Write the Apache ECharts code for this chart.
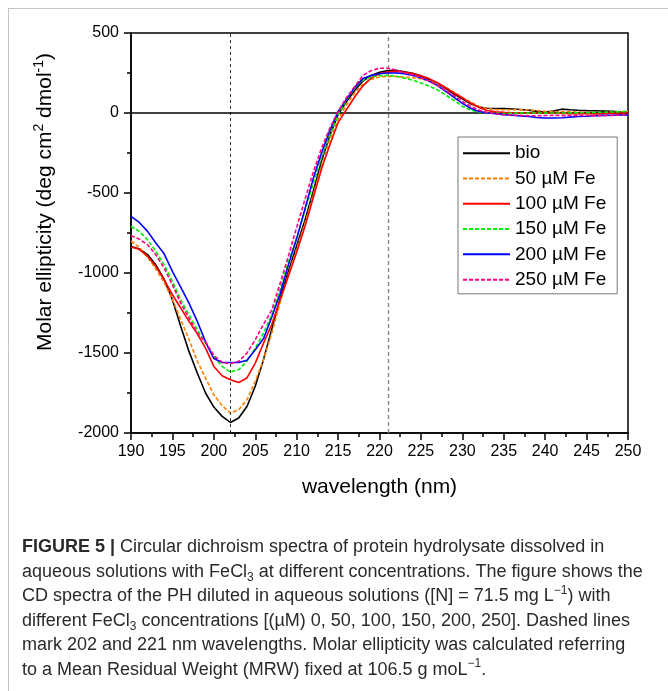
<!DOCTYPE html>
<html><head><meta charset="utf-8">
<script src="https://cdn.jsdelivr.net/npm/echarts@6/dist/echarts.min.js"></script>
<style>html,body{margin:0;padding:0;background:#fff}#c{width:668px;height:691px}</style>
</head><body><div id="c"></div>
<script>
const wavelengths = [190,191,192,193,194,195,196,197,198,199,200,201,202,203,204,205,206,207,208,209,210,211,212,213,214,215,216,217,218,219,220,221,222,223,224,225,226,227,228,229,230,231,232,233,234,235,236,237,238,239,240,241,242,243,244,245,246,247,248,249,250];
const bio = [-834,-850,-885,-950,-1040,-1167,-1333,-1490,-1625,-1750,-1838,-1896,-1934,-1906,-1834,-1708,-1540,-1350,-1160,-990,-830,-670,-490,-300,-140,-10,70,140,200,235,255,265,267,258,248,232,210,185,152,118,88,58,38,30,28,28,25,22,18,10,6,12,24,20,17,15,14,12,10,7,4];
const fe50 = [-800,-840,-900,-975,-1060,-1165,-1290,-1415,-1550,-1657,-1761,-1829,-1875,-1854,-1792,-1677,-1542,-1375,-1185,-1010,-850,-690,-510,-330,-170,-40,50,125,180,210,225,229,228,224,220,214,203,185,160,130,98,68,42,28,22,20,20,20,19,15,10,8,8,8,6,4,3,3,4,8,10];
const fe100 = [-838,-852,-896,-959,-1042,-1136,-1219,-1302,-1380,-1470,-1584,-1642,-1667,-1684,-1656,-1563,-1438,-1320,-1167,-1020,-870,-710,-530,-350,-200,-60,20,100,170,219,245,257,260,255,246,232,215,190,158,125,95,62,35,16,7,4,2,0,0,0,0,-2,-2,-4,-4,-4,-6,-4,-2,0,0];
const fe150 = [-709,-740,-792,-865,-948,-1052,-1167,-1261,-1354,-1438,-1521,-1584,-1619,-1604,-1552,-1469,-1375,-1260,-1100,-930,-780,-610,-440,-280,-140,-10,80,160,205,225,233,235,230,218,205,188,168,145,112,78,42,18,5,0,-2,-3,-2,0,0,0,0,0,0,0,1,2,3,5,6,8,10];
const fe200 = [-646,-684,-740,-813,-880,-990,-1088,-1188,-1302,-1430,-1535,-1559,-1559,-1559,-1545,-1480,-1410,-1275,-1130,-950,-785,-600,-410,-250,-110,10,85,160,215,235,245,250,250,245,235,220,198,172,135,98,60,30,10,0,-5,-10,-14,-18,-22,-28,-31,-31,-30,-26,-22,-20,-17,-15,-14,-12,-12];
const fe250 = [-767,-788,-823,-886,-969,-1073,-1188,-1282,-1375,-1430,-1515,-1559,-1567,-1552,-1500,-1417,-1320,-1230,-1065,-895,-715,-540,-370,-220,-95,10,95,165,235,265,280,280,268,252,237,220,200,172,140,108,72,42,18,4,-5,-10,-13,-15,-17,-17,-16,-15,-15,-15,-15,-16,-17,-17,-15,-12,-10];
const seriesNames = ['bio','50 µM Fe','100 µM Fe','150 µM Fe','200 µM Fe','250 µM Fe'];
const seriesColors = ['#000000','#ff8000','#ff0000','#00ee00','#0000ff','#ff0080'];
const seriesDashed = [false,true,false,true,false,true];
const markWavelengths = [202,221];
const yTicks = {min:-2000,max:500,interval:500};
const xTicks = {min:190,max:250,interval:5};

const allData = [bio,fe50,fe100,fe150,fe200,fe250];
const FONT = '"Liberation Sans", Arial, sans-serif';

const chart = echarts.init(document.getElementById('c'), null, {renderer:'canvas'});

const series = allData.map((vals,i)=>({
  name: seriesNames[i], type:'line', symbol:'none', smooth:false,
  data: wavelengths.map((w,j)=>[w, vals[j]]),
  lineStyle:{color:seriesColors[i], width:1.6, type: seriesDashed[i] ? [4,2] : 'solid'},
  itemStyle:{color:seriesColors[i]},
  z: 3 + i,
  emphasis:{disabled:true}
}));
series[0].markLine = {
  silent:true, symbol:'none', label:{show:false}, animation:false,
  data:[
    {xAxis:markWavelengths[0], lineStyle:{color:'#333', type:[3,3], width:1}},
    {xAxis:markWavelengths[1], lineStyle:{color:'#888', type:[4,3], width:1.4}},
    {yAxis:0, lineStyle:{color:'#000', type:'solid', width:1.5}}
  ]
};

const CF = 18;
const rich = {
  b:{fontWeight:'bold', fontSize:CF, fontFamily:FONT, color:'#2a2a2a', lineHeight:24, verticalAlign:'middle'},
  n:{fontSize:CF, fontFamily:FONT, color:'#2a2a2a', lineHeight:24, verticalAlign:'middle'},
  sub:{fontSize:12, fontFamily:FONT, color:'#2a2a2a', lineHeight:24, verticalAlign:'bottom'},
  sup:{fontSize:12, fontFamily:FONT, color:'#2a2a2a', lineHeight:24, verticalAlign:'top'}
};
const captionLines = [
  '{b|FIGURE 5 | }{n|Circular dichroism spectra of protein hydrolysate dissolved in}',
  '{n|aqueous solutions with FeCl}{sub|3}{n| at different concentrations. The figure shows the}',
  '{n|CD spectra of the PH diluted in aqueous solutions ([N] = 71.5 mg L}{sup|−1}{n|) with}',
  '{n|different FeCl}{sub|3}{n| concentrations [(µM) 0, 50, 100, 150, 200, 250]. Dashed lines}',
  '{n|mark 202 and 221 nm wavelengths. Molar ellipticity was calculated referring}',
  '{n|to a Mean Residual Weight (MRW) fixed at 106.5 g moL}{sup|−1}{n|.}'
];
const graphics = [
  {type:'line', shape:{x1:8,y1:8.5,x2:668,y2:8.5}, style:{stroke:'#c4c4c4', lineWidth:1}, silent:true},
  {type:'line', shape:{x1:8.5,y1:8,x2:8.5,y2:691}, style:{stroke:'#c4c4c4', lineWidth:1}, silent:true},
  {type:'text', x:45, y:202, rotation:Math.PI/2, silent:true,
    style:{text:'{a|Molar ellipticity (deg cm}{s|2}{a| dmol}{s|-1}{a|)}', align:'center', verticalAlign:'middle',
      rich:{a:{fontSize:21, fontFamily:FONT, fill:'#000', lineHeight:26, verticalAlign:'middle'},
            s:{fontSize:14, fontFamily:FONT, fill:'#000', lineHeight:26, verticalAlign:'top'}}}}
];
captionLines.forEach((t,i)=>{
  graphics.push({type:'text', x:22, y:547 + i*24.6, silent:true,
    style:{text:t, rich:rich, align:'left', verticalAlign:'middle', fill:'#2a2a2a', font:CF+'px '+FONT}});
});

chart.setOption({
  animation:false,
  backgroundColor:'#fff',
  textStyle:{fontFamily:FONT},
  grid:{left:131, right:40, top:33, bottom:258, show:true, borderColor:'#000', borderWidth:1.5, backgroundColor:'transparent'},
  xAxis:{type:'value', min:xTicks.min, max:xTicks.max, interval:xTicks.interval,
    name:'wavelength (nm)', nameLocation:'middle', nameGap:44,
    nameTextStyle:{fontSize:21, color:'#000', fontFamily:FONT},
    axisLine:{onZero:false, lineStyle:{color:'#000', width:1.5}},
    axisTick:{show:true, length:7, lineStyle:{color:'#000', width:1.5}},
    minorTick:{show:true, splitNumber:2, length:4, lineStyle:{color:'#000', width:1.5}},
    axisLabel:{fontSize:16, color:'#000', margin:11, fontFamily:FONT},
    splitLine:{show:false}},
  yAxis:{type:'value', min:yTicks.min, max:yTicks.max, interval:yTicks.interval,
    axisLine:{show:true, onZero:false, lineStyle:{color:'#000', width:1.5}},
    axisTick:{show:true, length:7, lineStyle:{color:'#000', width:1.5}},
    minorTick:{show:true, splitNumber:2, length:4, lineStyle:{color:'#000', width:1.5}},
    axisLabel:{fontSize:16, color:'#000', margin:12, fontFamily:FONT, formatter:(v)=>String(v)},
    splitLine:{show:false}},
  legend:{show:true, orient:'vertical', left:458, top:137,
    data: seriesNames,
    itemWidth:47, itemHeight:14, itemGap:3, padding:[5,11,3,4],
    itemStyle:{opacity:0},
    borderColor:'#777', borderWidth:1, backgroundColor:'#fff',
    textStyle:{fontSize:19, color:'#000', fontFamily:FONT, lineHeight:22.3},
    selectedMode:false},
  series: series,
  graphic: graphics
});
</script></body></html>
